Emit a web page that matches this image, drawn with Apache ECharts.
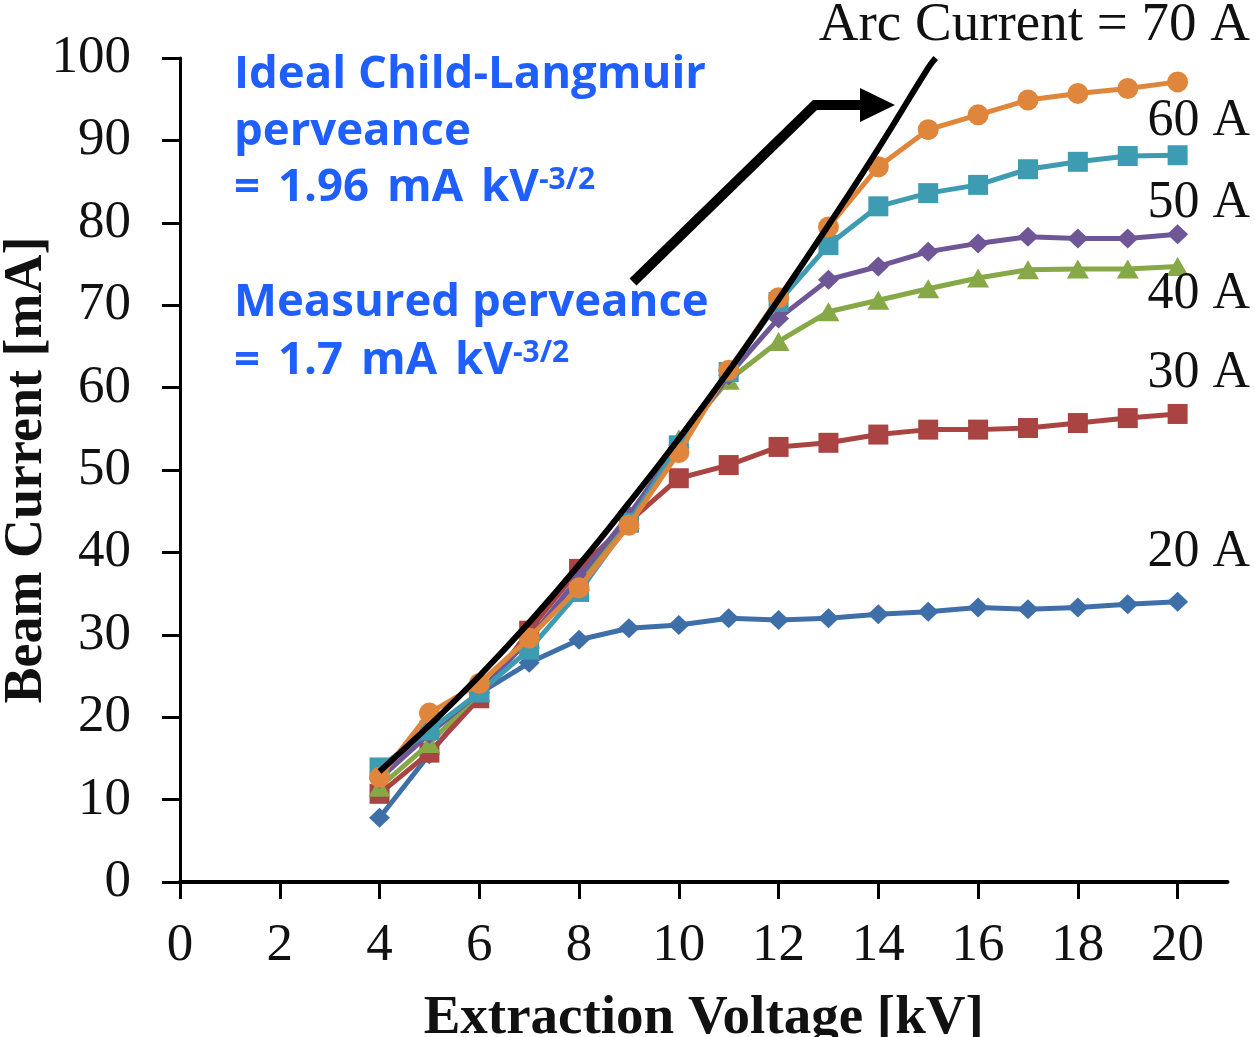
<!DOCTYPE html>
<html>
<head>
<meta charset="utf-8">
<script src="https://cdn.jsdelivr.net/npm/echarts@6/dist/echarts.min.js"></script>
<style>
html,body{margin:0;padding:0;background:#fff;}
#chart{width:1255px;height:1037px;}
</style>
</head>
<body>
<div id="chart"></div>
<script>
// ---- data ----
var voltages = [4, 5, 6, 7, 8, 9, 10, 11, 12, 13, 14, 15, 16, 17, 18, 19, 20];
var arc20 = [7.8, 15.5, 22.9, 26.6, 29.4, 30.8, 31.2, 32.0, 31.8, 32.0, 32.5, 32.8, 33.3, 33.1, 33.3, 33.7, 34.0];
var arc30 = [10.7, 15.7, 22.3, 30.5, 38.0, 43.7, 49.0, 50.6, 52.8, 53.3, 54.3, 54.9, 54.9, 55.1, 55.7, 56.3, 56.8];
var arc40 = [11.5, 16.8, 23.0, 29.5, 36.5, 44.0, 53.8, 60.9, 65.6, 69.2, 70.6, 72.0, 73.3, 74.3, 74.4, 74.4, 74.7];
var arc50 = [12.5, 18.0, 23.0, 29.5, 37.0, 44.5, 53.0, 61.5, 68.4, 73.1, 74.7, 76.5, 77.5, 78.3, 78.1, 78.1, 78.6];
var arc60 = [13.9, 18.4, 23.0, 28.2, 35.2, 43.6, 53.0, 61.9, 70.4, 77.3, 82.0, 83.6, 84.6, 86.5, 87.4, 88.1, 88.2];
var arc70 = [12.7, 20.5, 24.1, 29.6, 35.7, 43.3, 52.1, 62.1, 70.9, 79.5, 86.8, 91.3, 93.1, 94.9, 95.7, 96.3, 97.1];
var idealV = [4, 5, 6, 7, 8, 9, 10, 11, 12, 13, 14, 15, 15.15];
var idealI = [13.4, 19.0, 25.0, 31.5, 38.5, 46.0, 53.8, 62.0, 70.7, 79.7, 89.0, 98.8, 100];
var xTicks = [0, 2, 4, 6, 8, 10, 12, 14, 16, 18, 20];
var seriesNames = ['20 A', '30 A', '40 A', '50 A', '60 A', '70 A'];
var rightLabels = ['Arc Current = 70 A', '60 A', '50 A', '40 A', '30 A', '20 A'];

function pairs(xs, ys) { return xs.map(function (x, i) { return [x, ys[i]]; }); }

var serif = "'Liberation Serif','Times New Roman',serif";
var sans = "'Open Sans','Noto Sans',sans-serif";
var blue = '#1f5fff';

var styles = [
  {c: '#3e6fa8', s: 'diamond', sz: [21, 20], d: arc20},
  {c: '#a94442', s: 'rect', sz: 20, d: arc30},
  {c: '#86a847', s: 'triangle', sz: [22, 19], d: arc40},
  {c: '#6f5797', s: 'diamond', sz: [21, 20], d: arc50},
  {c: '#3e9cb2', s: 'rect', sz: 20, d: arc60},
  {c: '#e0863c', s: 'circle', sz: 21, d: arc70}
];

var series = styles.map(function (st, i) {
  return {
    name: seriesNames[i], type: 'line', data: pairs(voltages, st.d),
    symbol: st.s, symbolSize: st.sz, showSymbol: true,
    lineStyle: {color: st.c, width: 5},
    itemStyle: {color: st.c},
    z: 2 + i, animation: false
  };
});
series.push({
  name: 'ideal', type: 'line', data: pairs(idealV, idealI), smooth: true,
  showSymbol: false, symbol: 'none', lineStyle: {color: '#000', width: 6}, z: 20, animation: false
});

function txt(t, x, y, font, size, weight, color, align, rich) {
  return {type: 'text', x: x, y: y, z: 30, style: {
    text: t, fontFamily: font, fontSize: size, fontWeight: weight,
    fill: color, align: align, verticalAlign: 'middle', rich: rich}};
}
var supRich = {
  sup: {fontFamily: sans, fontSize: 30, fontWeight: 'bold', fill: blue, verticalAlign: 'top'},
  s: {width: 18}
};
var labelY = [26, 121, 203, 294, 373, 552];
var labelSize = [55, 52, 52, 52, 52, 52];

var graphics = [
  txt('Ideal Child-Langmuir', 234, 75, sans, 45.5, 'bold', blue, 'left'),
  txt('perveance', 234, 132, sans, 45.5, 'bold', blue, 'left'),
  txt('={s| }1.96{s| }mA{s| }kV{sup|-3/2}', 234, 188, sans, 45.5, 'bold', blue, 'left', supRich),
  txt('Measured perveance', 234, 303, sans, 45.5, 'bold', blue, 'left'),
  txt('={s| }1.7{s| }mA{s| }kV{sup|-3/2}', 234, 361, sans, 45.5, 'bold', blue, 'left', supRich),
  {type: 'polyline', z: 25, shape: {points: [[633, 282], [815, 105], [866, 105]]},
   style: {stroke: '#000', lineWidth: 10, lineJoin: 'miter', lineCap: 'butt', fill: null}},
  {type: 'polygon', z: 25, shape: {points: [[860, 88], [895, 105], [860, 122]]}, style: {fill: '#000'}}
];
rightLabels.forEach(function (t, i) {
  graphics.push(txt(t, 1250, labelY[i], serif, labelSize[i], 'normal', '#111', 'right'));
});

var chart = echarts.init(document.getElementById('chart'), null, {renderer: 'canvas'});
chart.setOption({
  animation: false,
  backgroundColor: '#fff',
  grid: {left: 180, right: 27.5, top: 58, bottom: 155, containLabel: false, outerBoundsMode: 'none'},
  xAxis: {
    type: 'value', min: 0, max: 21, interval: 2,
    name: 'Extraction Voltage [kV]', nameLocation: 'middle', nameGap: 109, nameMoveOverlap: false,
    nameTextStyle: {fontFamily: serif, fontSize: 55, fontWeight: 'bold', color: '#111', verticalAlign: 'top'},
    axisLine: {show: true, onZero: false, lineStyle: {color: '#000', width: 4}},
    axisTick: {show: true, inside: false, length: 17, lineStyle: {color: '#000', width: 3}, customValues: xTicks},
    axisLabel: {margin: 38, fontFamily: serif, fontSize: 53, color: '#111', customValues: xTicks},
    splitLine: {show: false}
  },
  yAxis: {
    type: 'value', min: 0, max: 100, interval: 10,
    name: 'Beam Current [mA]', nameLocation: 'middle', nameGap: 126, nameRotate: 90, nameMoveOverlap: false,
    nameTextStyle: {fontFamily: serif, fontSize: 54, fontWeight: 'bold', color: '#111'},
    axisLine: {show: true, lineStyle: {color: '#000', width: 3}},
    axisTick: {show: true, inside: false, length: 18, lineStyle: {color: '#000', width: 3}},
    axisLabel: {margin: 49, fontFamily: serif, fontSize: 53, color: '#111'},
    splitLine: {show: false}
  },
  series: series,
  graphic: graphics
});
</script>
</body>
</html>
